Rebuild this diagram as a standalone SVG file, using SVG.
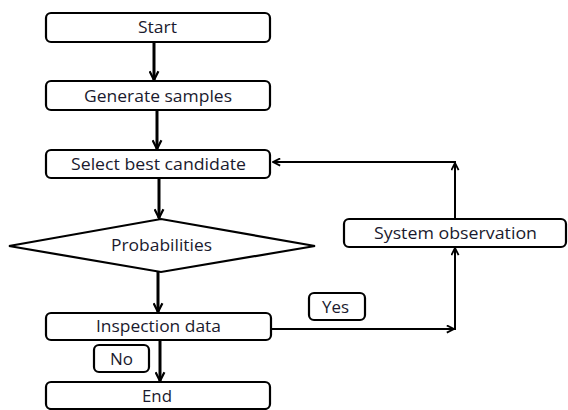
<svg xmlns="http://www.w3.org/2000/svg" width="568" height="410" viewBox="0 0 568 410">
<style>
.box{fill:#fff;stroke:#000;stroke-width:2.2}
.t{font-family:"Open Sans","Noto Sans",sans-serif;font-size:15.5px;fill:#1a1a2e;text-anchor:middle;dominant-baseline:central}
.c{fill:none;stroke:#000}
.thick{stroke-width:3}
.thin{stroke-width:2}
</style>
<defs>
<marker id="ah" viewBox="0 0 10 10" refX="9" refY="5" markerWidth="9" markerHeight="9" markerUnits="userSpaceOnUse" orient="auto">
<path d="M1,1 L9,5 L1,9" fill="none" stroke="#000" stroke-width="2"/>
</marker>
<marker id="ah2" viewBox="0 0 10 10" refX="9" refY="5" markerWidth="11" markerHeight="11" markerUnits="userSpaceOnUse" orient="auto">
<path d="M1,1 L9,5 L1,9" fill="none" stroke="#000" stroke-width="2"/>
</marker>
</defs>
<rect width="568" height="410" fill="#fff"/>
<g id="connectors">
<line class="c thick" x1="154" y1="42" x2="154" y2="80" marker-end="url(#ah2)"/>
<line class="c thick" x1="157" y1="110" x2="157" y2="149" marker-end="url(#ah2)"/>
<line class="c thick" x1="159" y1="178" x2="159" y2="218" marker-end="url(#ah2)"/>
<line class="c thick" x1="158" y1="272" x2="158" y2="312" marker-end="url(#ah2)"/>
<line class="c thick" x1="160" y1="340" x2="160" y2="381" marker-end="url(#ah2)"/>
<line class="c thin" x1="271" y1="329" x2="454" y2="329" marker-end="url(#ah)"/>
<line class="c thin" x1="455" y1="330" x2="455" y2="248" marker-end="url(#ah)"/>
<line class="c thin" x1="455" y1="219" x2="455" y2="163" marker-end="url(#ah)"/>
<line class="c thin" x1="456" y1="162" x2="273" y2="162" marker-end="url(#ah)"/>
</g>
<g id="start"><rect class="box" x="46" y="13" width="224" height="29" rx="5"/><text class="t" x="157.5" y="27" textLength="39" lengthAdjust="spacingAndGlyphs">Start</text></g>
<g id="generate"><rect class="box" x="46" y="81" width="224" height="29" rx="5"/><text class="t" x="158" y="96" textLength="148" lengthAdjust="spacingAndGlyphs">Generate samples</text></g>
<g id="select"><rect class="box" x="46" y="150" width="224" height="28" rx="5"/><text class="t" x="158.5" y="164" textLength="175" lengthAdjust="spacingAndGlyphs">Select best candidate</text></g>
<g id="probabilities"><polygon class="box" points="9,246 161,219 315,246 161,272"/><text class="t" x="161.5" y="245" textLength="101" lengthAdjust="spacingAndGlyphs">Probabilities</text></g>
<g id="inspection"><rect class="box" x="46" y="313" width="225" height="27" rx="5"/><text class="t" x="158.5" y="326" textLength="125" lengthAdjust="spacingAndGlyphs">Inspection data</text></g>
<g id="no"><rect class="box" x="94" y="345" width="55" height="27" rx="5"/><text class="t" x="121.5" y="359" textLength="23" lengthAdjust="spacingAndGlyphs">No</text></g>
<g id="end"><rect class="box" x="46" y="382" width="224" height="27" rx="5"/><text class="t" x="157" y="396" textLength="30" lengthAdjust="spacingAndGlyphs">End</text></g>
<g id="system"><rect class="box" x="344" y="219" width="222" height="28" rx="5"/><text class="t" x="455.5" y="233" textLength="163" lengthAdjust="spacingAndGlyphs">System observation</text></g>
<g id="yes"><rect class="box" x="309" y="293" width="56" height="27" rx="5"/><text class="t" x="335.5" y="307" textLength="27" lengthAdjust="spacingAndGlyphs">Yes</text></g>
</svg>
